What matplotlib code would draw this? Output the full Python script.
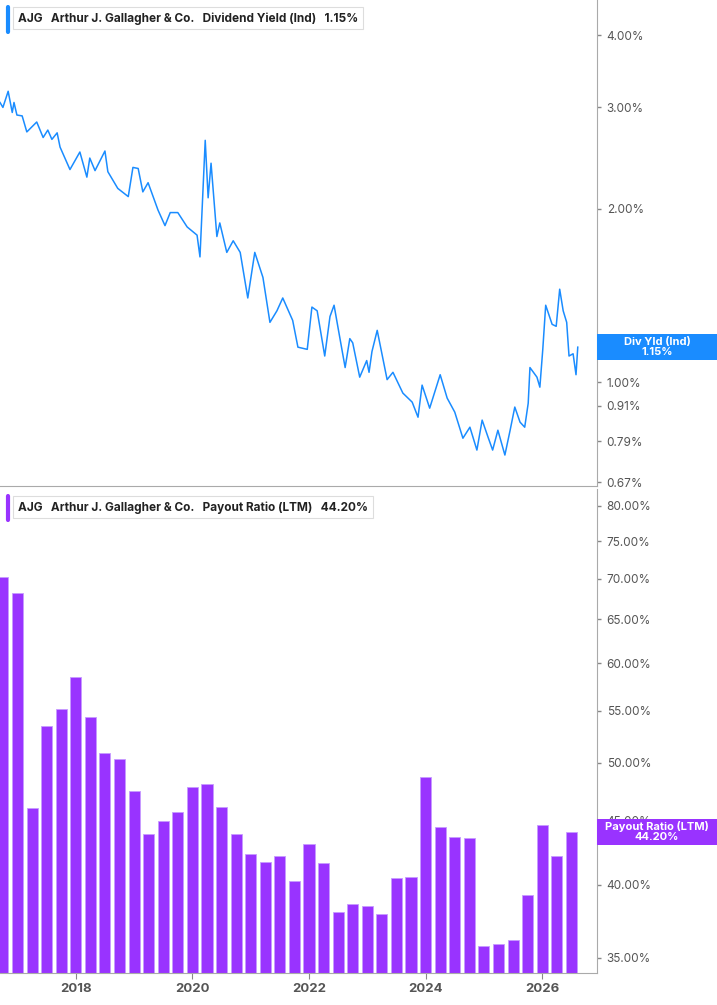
import numpy as np
import matplotlib
matplotlib.use("Agg")
import matplotlib.pyplot as plt
from matplotlib.ticker import FixedLocator, NullLocator
from matplotlib.patches import Rectangle

plt.rcParams["font.family"] = ["Inter", "DejaVu Sans"]

# dividend yield (%)
yld_t = [2016.70, 2016.75, 2016.84, 2016.91, 2016.94, 2016.99, 2017.08, 2017.16, 2017.33, 2017.44,
         2017.52, 2017.59, 2017.68, 2017.73, 2017.90, 2018.07, 2018.19, 2018.24, 2018.33, 2018.50,
         2018.55, 2018.72, 2018.90, 2018.98, 2019.07, 2019.15, 2019.24, 2019.41, 2019.53, 2019.62,
         2019.75, 2019.91, 2020.08, 2020.13, 2020.22, 2020.27, 2020.32, 2020.42, 2020.47, 2020.59,
         2020.70, 2020.82, 2020.95, 2021.07, 2021.21, 2021.33, 2021.45, 2021.55, 2021.72, 2021.81,
         2021.97, 2022.05, 2022.14, 2022.27, 2022.36, 2022.43, 2022.50, 2022.62, 2022.70, 2022.75,
         2022.87, 2022.99, 2023.03, 2023.08, 2023.17, 2023.34, 2023.44, 2023.61, 2023.77, 2023.87,
         2023.94, 2024.07, 2024.25, 2024.37, 2024.50, 2024.64, 2024.76, 2024.88, 2024.97, 2025.07,
         2025.15, 2025.24, 2025.36, 2025.45, 2025.53, 2025.62, 2025.70, 2025.76, 2025.79, 2025.91,
         2025.96, 2026.01, 2026.06, 2026.17, 2026.24, 2026.30, 2026.36, 2026.42, 2026.46, 2026.53,
         2026.58, 2026.61]
yld_v = [3.06, 3.00, 3.20, 2.94, 3.06, 2.91, 2.90, 2.72, 2.83, 2.66,
         2.74, 2.64, 2.71, 2.56, 2.34, 2.51, 2.27, 2.45, 2.33, 2.52,
         2.32, 2.17, 2.10, 2.36, 2.35, 2.14, 2.22, 1.99, 1.87, 1.97,
         1.97, 1.86, 1.80, 1.65, 2.63, 2.09, 2.40, 1.79, 1.89, 1.68,
         1.76, 1.68, 1.40, 1.68, 1.52, 1.27, 1.33, 1.40, 1.28, 1.15,
         1.14, 1.35, 1.33, 1.11, 1.30, 1.36, 1.24, 1.06, 1.19, 1.17,
         1.02, 1.09, 1.04, 1.13, 1.23, 1.01, 1.04, 0.957, 0.923, 0.869,
         0.988, 0.901, 1.03, 0.938, 0.887, 0.799, 0.835, 0.762, 0.859, 0.803,
         0.762, 0.825, 0.747, 0.825, 0.905, 0.852, 0.835, 0.919, 1.06, 1.02,
         0.98, 1.14, 1.36, 1.26, 1.25, 1.45, 1.33, 1.27, 1.11, 1.12,
         1.03, 1.15]

# payout ratio (LTM, %) quarterly
pay_t = [2016.75 + 0.25 * i for i in range(40)]
pay_v = [70.2, 68.2, 46.0, 53.5, 55.2, 58.5, 54.4, 50.9, 50.4, 47.5,
         43.9, 45.0, 45.7, 47.8, 48.1, 46.1, 43.9, 42.3, 41.7, 42.2,
         40.3, 43.1, 41.6, 38.1, 38.6, 38.5, 37.9, 40.5, 40.6, 48.7,
         44.5, 43.7, 43.6, 35.8, 35.9, 36.2, 39.3, 44.6, 42.2, 44.1]

yld_ticks = [0.67, 0.79, 0.91, 1.00, 2.00, 3.00, 4.00]
pay_ticks = [35, 40, 45, 50, 55, 60, 65, 70, 75, 80]
years = [2018, 2020, 2022, 2024, 2026]

BLUE = "#1a8cff"
PURPLE = "#9933ff"
GREY = "#555555"
XMIN, XMAX = 2016.70, 2026.94

fig = plt.figure(figsize=(7.17, 10.05), dpi=100)
W, H = 717, 1005
ax1 = fig.add_axes([0, 1 - 486 / H, 597 / W, 486 / H])
ax2 = fig.add_axes([0, 1 - 973 / H, 597 / W, (973 - 489) / H])


def style(ax, ticks, fmt):
    ax.set_yscale("log")
    ax.set_xlim(XMIN, XMAX)
    ax.yaxis.tick_right()
    ax.yaxis.set_major_locator(FixedLocator(ticks))
    ax.yaxis.set_minor_locator(NullLocator())
    ax.set_yticklabels([fmt.format(t) for t in ticks])
    ax.tick_params(axis="y", length=3, width=1, color="#888888", labelsize=8.5,
                   labelcolor=GREY, pad=4)
    for s in ["top", "left"]:
        ax.spines[s].set_visible(False)
    for s in ["right", "bottom"]:
        ax.spines[s].set_color("#aaaaaa")


ax1.plot(yld_t, yld_v, color=BLUE, lw=1.1)
ax1.set_ylim(0.66, 4.61)
style(ax1, yld_ticks, "{:.2f}%")
ax1.set_xticks([])

ax2.bar(pay_t, pay_v, width=0.19, color=PURPLE, edgecolor="#c79bff", linewidth=0.6)
ax2.set_ylim(34.05, 82.5)
style(ax2, pay_ticks, "{:.2f}%")
ax2.set_xticks(years)
ax2.set_xticklabels([str(y) for y in years])
ax2.tick_params(axis="x", length=4, color="#888888", labelsize=9.5, labelcolor=GREY)
for lab in ax2.get_xticklabels():
    lab.set_fontweight("bold")


def legend(ax, text, color):
    ax.text(0.03, 0.975, text, transform=ax.transAxes, fontsize=8.5, fontweight="bold",
            color="#222222", va="top", ha="left",
            bbox=dict(boxstyle="square,pad=0.4", fc="white", ec="#dddddd", lw=0.8))
    ax.plot([0.013, 0.013], [0.935, 0.985], transform=ax.transAxes, color=color, lw=3,
            solid_capstyle="round", clip_on=False)


legend(ax1, "AJG   Arthur J. Gallagher & Co.   Dividend Yield (Ind)   1.15%", BLUE)
legend(ax2, "AJG   Arthur J. Gallagher & Co.   Payout Ratio (LTM)   44.20%", PURPLE)


def value_tag(ax, val, text, color):
    # full-width tag in the right margin, covering the tick label beneath it
    fx, fy = fig.transFigure.inverted().transform(ax.transData.transform((XMAX, val)))
    h = 26 / H
    fig.patches.append(Rectangle((597 / W, fy - h / 2), 120 / W, h, transform=fig.transFigure,
                                 fc=color, ec="none", zorder=10))
    fig.text(657 / W, fy, text, ha="center", va="center", fontsize=8, fontweight="bold",
             color="white", zorder=11, linespacing=1.0)


value_tag(ax1, yld_v[-1], "Div Yld (Ind)\n1.15%", BLUE)
value_tag(ax2, pay_v[-1], "Payout Ratio (LTM)\n44.20%", PURPLE)

fig.savefig("out.png", dpi=100)
